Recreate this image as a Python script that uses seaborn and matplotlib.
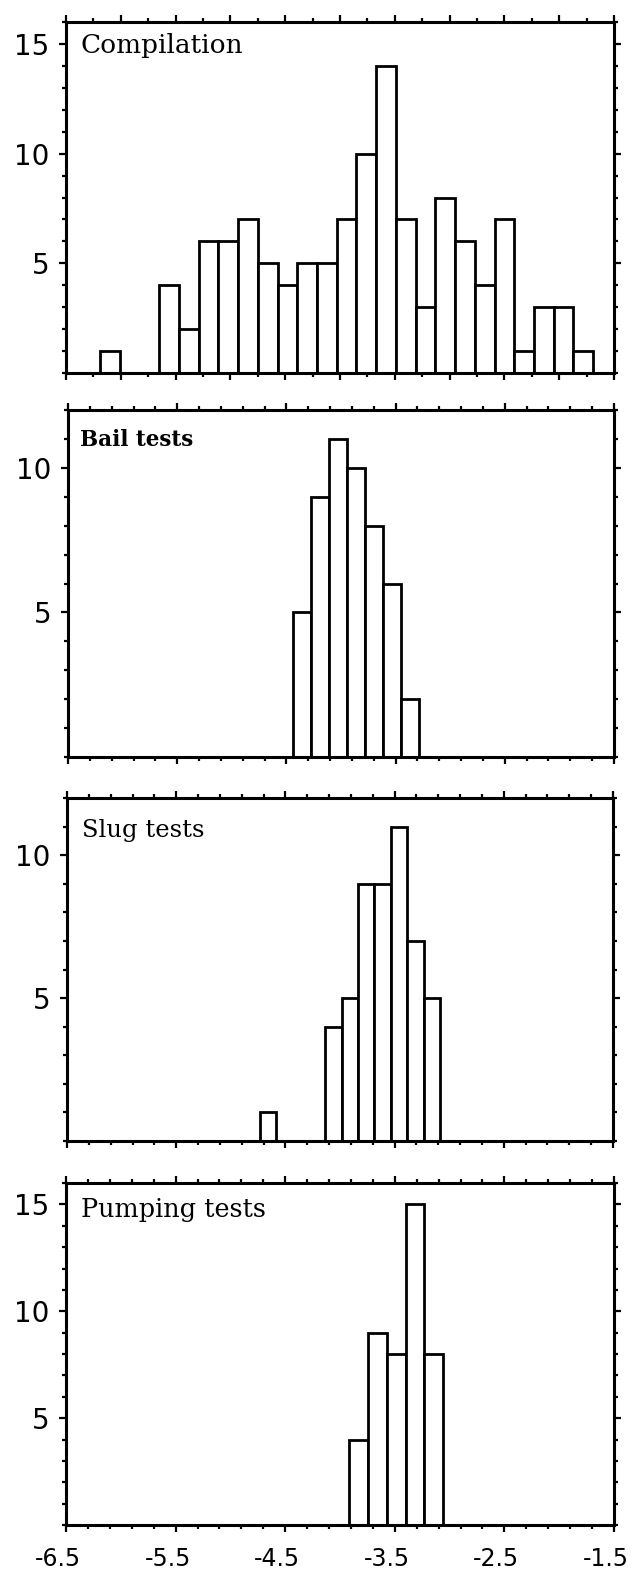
import numpy as np
import pandas as pd
import matplotlib
matplotlib.use("Agg")
import matplotlib.pyplot as plt
import matplotlib.ticker as mticker
import matplotlib.transforms as mtransforms
import seaborn as sns

# ── Style ─────────────────────────────────────────────────────────────────────
sns.set_style("ticks")
plt.rcParams["font.family"] = ["DejaVu Sans"]
plt.rcParams["text.color"] = "black"
plt.rcParams["xtick.color"] = "black"
plt.rcParams["ytick.color"] = "black"

# ── Data: counts per bin of log10 K (bin start, bin width, counts) ───────────
comp_start, comp_width = -6.19, 0.18
comp_counts = [1, 0, 0, 4, 2, 6, 6, 7, 5, 4, 5, 5, 7, 10, 14, 7, 3, 8, 6, 4, 7, 1, 3, 3, 1]

bail_start, bail_width = -4.44, 0.165
bail_counts = [5, 9, 11, 10, 8, 6, 2]

slug_start, slug_width = -4.735, 0.15
slug_counts = [1, 0, 0, 0, 4, 5, 9, 9, 11, 7, 5]

pump_start, pump_width = -3.915, 0.171
pump_counts = [4, 9, 8, 15, 8]

titles = ["Compilation", "Bail tests", "Slug tests", "Pumping tests"]
ymax = [16, 12, 12, 16]
x_labels = ["-6.5", "-5.5", "-4.5", "-3.5", "-2.5", "-1.5"]

# ── Layout (pixels: left, right, top, bottom) ─────────────────────────────────
W, H = 637, 1572
boxes = [(66, 614, 22, 373), (68, 614, 410, 757), (67, 613, 798, 1141), (66, 614, 1183, 1525)]
title_fmt = [
    dict(size=19, weight="normal", dx=15, dy=31),
    dict(size=15.5, weight="bold", dx=12, dy=36),
    dict(size=17.5, weight="normal", dx=15, dy=39),
    dict(size=18.4, weight="normal", dx=15, dy=34),
]

panels = [
    (comp_start, comp_width, comp_counts),
    (bail_start, bail_width, bail_counts),
    (slug_start, slug_width, slug_counts),
    (pump_start, pump_width, pump_counts),
]

fig = plt.figure(figsize=(W / 100, H / 100), dpi=100)

for i, (start, width, counts) in enumerate(panels):
    l, r, t, b = boxes[i]
    ax = fig.add_axes([l / W, 1 - b / H, (r - l) / W, (b - t) / H])

    n = len(counts)
    edges = start + width * np.arange(n + 1)
    hist_df = pd.DataFrame({
        "logK": start + width * (np.arange(n) + 0.5),
        "count": counts,
    })
    sns.histplot(data=hist_df, x="logK", weights="count", bins=list(edges), ax=ax,
                 color="white", edgecolor="black", linewidth=2.0, alpha=1)

    ax.set_xlim(-6.5, -1.5)
    ax.set_ylim(0, ymax[i])
    ax.set_xlabel("")
    ax.set_ylabel("")

    # x ticks
    if i == 0:
        ax.set_xticks(np.arange(-6.5, -1.4, 0.5))
        ax.set_xticks(np.arange(-6.5, -1.4, 0.25), minor=True)
    else:
        ax.set_xticks(np.arange(-6.5, -1.4, 1.0))
        ax.set_xticks(np.arange(-6.5, -1.45, 0.2), minor=True)

    # y ticks
    ax.set_yticks([v for v in (5, 10, 15) if v < ymax[i]])
    ax.yaxis.set_minor_locator(mticker.MultipleLocator(1))

    for s in ax.spines.values():
        s.set_visible(True)
        s.set_linewidth(2.2)
        s.set_color("black")
        s.set_zorder(5)

    ax.tick_params(which="both", direction="out", top=True, right=True,
                   width=1.6, color="black", labelcolor="black")
    ax.tick_params(which="major", length=5)
    ax.tick_params(which="minor", length=3)
    ax.tick_params(axis="y", labelsize=20, pad=7)
    ax.tick_params(axis="x", labelsize=17, pad=11)

    if i == 3:
        ax.set_xticklabels(x_labels)
        shift = mtransforms.ScaledTranslation(-0.08, 0, fig.dpi_scale_trans)
        for lab in ax.get_xticklabels():
            lab.set_transform(lab.get_transform() + shift)
    else:
        ax.tick_params(axis="x", labelbottom=False)

    f = title_fmt[i]
    ax.annotate(titles[i], xy=(0, 1), xycoords="axes fraction",
                xytext=(f["dx"], -f["dy"]), textcoords="offset pixels",
                ha="left", va="baseline", fontsize=f["size"], color="black",
                fontweight=f["weight"], family=["DejaVu Serif"])

plt.savefig("out.png", dpi=100)
